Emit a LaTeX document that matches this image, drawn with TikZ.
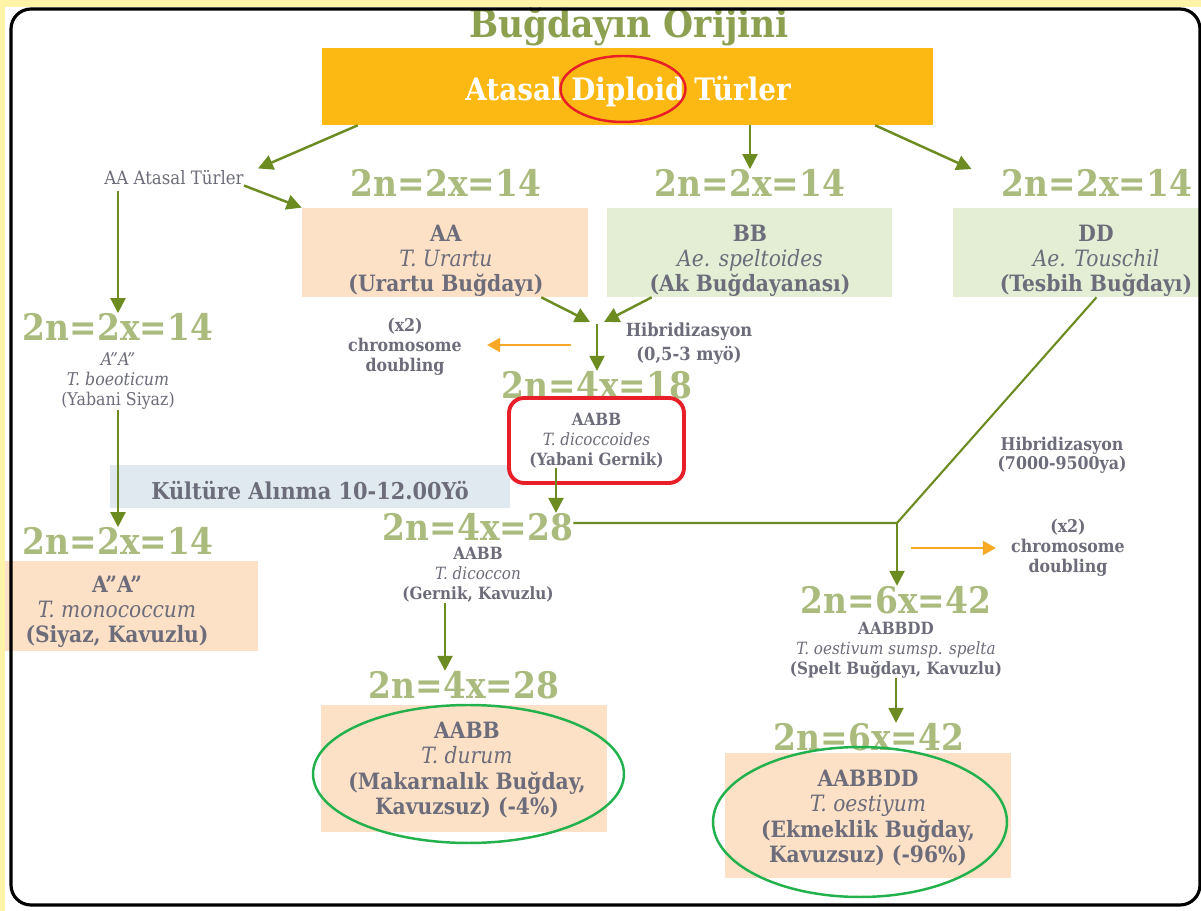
\documentclass[tikz,border=0pt]{standalone}
\usepackage{fontspec}
\setmainfont{DejaVu Serif}[FakeStretch=0.9]
\usetikzlibrary{arrows.meta,positioning,calc,shapes.geometric}
\definecolor{slideyellow}{RGB}{255,243,168}
\definecolor{titlegreen}{RGB}{140,160,80}
\definecolor{ploidgreen}{RGB}{170,187,125}
\definecolor{txtgray}{RGB}{108,108,122}
\definecolor{arrgreen}{RGB}{108,140,34}
\definecolor{topgold}{RGB}{253,185,19}
\definecolor{peach}{RGB}{253,225,199}
\definecolor{mint}{RGB}{228,238,213}
\definecolor{bandblue}{RGB}{225,233,240}
\definecolor{ringred}{RGB}{232,30,40}
\definecolor{ringgreen}{RGB}{34,177,76}
\definecolor{dblorange}{RGB}{248,168,36}
\tikzset{
  titletxt/.style={text=titlegreen, font=\bfseries\fontsize{21.8}{24}\selectfont, inner sep=0pt},
  toptxt/.style={text=white, font=\bfseries\fontsize{17.6}{20}\selectfont, inner sep=0pt},
  ploidy/.style={text=ploidgreen, font=\bfseries\fontsize{20.8}{22}\selectfont, inner sep=0pt},
  boxtxt/.style={text=txtgray, align=center, inner sep=0pt, font=\fontsize{12.8}{14.3}\selectfont},
  smalltxt/.style={text=txtgray, align=center, inner sep=0pt, font=\fontsize{9.6}{11.4}\selectfont},
  notetxt/.style={text=txtgray, align=center, inner sep=0pt, font=\bfseries\fontsize{10}{11.4}\selectfont},
  swatch/.style={inner sep=0pt, draw=none},
  arr/.style={-{Triangle[length=3mm,width=3mm]}, line width=1.4pt, arrgreen},
  link/.style={line width=1.2pt, arrgreen},
  dblarr/.style={-{Triangle[length=2.6mm,width=2.8mm]}, line width=1.2pt, dblorange},
  ring/.style={ellipse, line width=1.4pt, inner sep=0pt},
}
\newcommand{\taxon}[3]{\textbf{#1}\\\textit{#2}\\\textbf{#3}}

\begin{document}
\begin{tikzpicture}[x=0.02cm, y=-0.02cm]
  \useasboundingbox (0,0) rectangle (1201,911);
  \clip (0,0) rectangle (1201,911);
  % Slide background and frame
  \fill[white] (0,0) rectangle (1201,911);
  \fill[slideyellow] (0,0) rectangle (1201,7);
  \fill[slideyellow] (0,0) rectangle (5,911);
  % Title and ancestral diploids
  \node[titletxt] (title) at (629,27) {Buğdayın Orijini};
  \node[swatch, fill=topgold, minimum width=12.22cm, minimum height=1.54cm] (top) at (627.5,86.5) {};
  \node[toptxt] (toptxt) at (628,92) {Atasal Diploid Türler};
  \node[ring, draw=ringred, minimum width=2.5cm, minimum height=1.32cm] (dipring) at (623,89) {};
  \node[smalltxt, font=\fontsize{10.5}{12}\selectfont] (aaanc) at (174,178) {AA Atasal Türler};
  % Diploid genomes
  \node[ploidy] (p1) at (446,183) {2n=2x=14};
  \node[ploidy] (p2) at (750,183) {2n=2x=14};
  \node[ploidy] (p3) at (1097,183) {2n=2x=14};
  \node[swatch, fill=peach, minimum width=5.72cm, minimum height=1.78cm] (aa) at (445,252.5) {};
  \node[swatch, fill=mint, minimum width=5.70cm, minimum height=1.78cm] (bb) at (749.5,252.5) {};
  \node[swatch, fill=mint, minimum width=5.74cm, minimum height=1.78cm] (dd) at (1096.5,252.5) {};
  \node[boxtxt] (aatxt) at (446,261) {\taxon{AA}{T. Urartu}{(Urartu Buğdayı)}};
  \node[boxtxt] (bbtxt) at (750,261) {\taxon{BB}{Ae. speltoides}{(Ak Buğdayanası)}};
  \node[boxtxt] (ddtxt) at (1096,261) {\taxon{DD}{Ae. Touschil}{(Tesbih Buğdayı)}};
  % Einkorn line
  \node[ploidy] (lp1) at (118,327) {2n=2x=14};
  \node[smalltxt, font=\fontsize{10}{11.4}\selectfont] (boe) at (118,381) {\textit{A”A”}\\\textit{T. boeoticum}\\(Yabani Siyaz)};
  \node[swatch, fill=bandblue, minimum width=8cm, minimum height=0.86cm] (band) at (310,486.5) {};
  \node[boxtxt, font=\bfseries\fontsize{13.2}{15}\selectfont] (bandtxt) at (310,491) {Kültüre Alınma 10-12.00Yö};
  \node[ploidy] (lp2) at (118,541) {2n=2x=14};
  \node[swatch, fill=peach, minimum width=5.06cm, minimum height=1.8cm] (mono) at (131.5,606) {};
  \node[boxtxt] (monotxt) at (117,612) {\taxon{A”A”}{T. monococcum}{(Siyaz, Kavuzlu)}};
  % Tetraploids
  \node[notetxt, font=\bfseries\fontsize{10.3}{13.7}\selectfont] (hyb1) at (689,344) {Hibridizasyon\\(0,5-3 myö)};
  \node[notetxt] (dbl1) at (405,347) {(x2)\\chromosome\\doubling};
  \node[ploidy] (p4) at (597,385) {2n=4x=18};
  \node[smalltxt, font=\fontsize{9.6}{11.4}\selectfont, draw=ringred, line width=2.2pt, rounded corners=0.3cm,
        minimum width=3.5cm, minimum height=1.7cm] (dic) at (596.5,440.5)
        {\taxon{AABB}{T. dicoccoides}{(Yabani Gernik)}};
  \node[ploidy] (p5) at (478,527) {2n=4x=28};
  \node[smalltxt] (dicoc) at (478,575) {\taxon{AABB}{T. dicoccon}{(Gernik, Kavuzlu)}};
  \node[ploidy] (p6) at (464,685) {2n=4x=28};
  \node[swatch, fill=peach, minimum width=5.72cm, minimum height=2.54cm] (durum) at (464,768.5) {};
  \node[boxtxt] (durumtxt) at (467,770) {\textbf{AABB}\\\textit{T. durum}\\\textbf{(Makarnalık Buğday,}\\\textbf{Kavuzsuz) (-4\%)}};
  \node[ring, draw=ringgreen, minimum width=6.22cm, minimum height=2.76cm] (durring) at (468.5,774) {};
  % Hexaploids
  \node[notetxt, font=\bfseries\fontsize{10}{10.8}\selectfont] (hyb2) at (1062,455) {Hibridizasyon\\(7000-9500ya)};
  \node[notetxt] (dbl2) at (1068,548) {(x2)\\chromosome\\doubling};
  \node[ploidy] (p7) at (896,600) {2n=6x=42};
  \node[smalltxt] (spelt) at (896,650) {\taxon{AABBDD}{T. oestivum sumsp. spelta}{(Spelt Buğdayı, Kavuzlu)}};
  \node[ploidy] (p8) at (869,737) {2n=6x=42};
  \node[swatch, fill=peach, minimum width=5.72cm, minimum height=2.5cm] (aest) at (868,815.5) {};
  \node[boxtxt] (aesttxt) at (868,818) {\textbf{AABBDD}\\\textit{T. oestiyum}\\\textbf{(Ekmeklik Buğday,}\\\textbf{Kavuzsuz) (-96\%)}};
  \node[ring, draw=ringgreen, minimum width=5.88cm, minimum height=3.0cm] (aestring) at (860,822) {};
  % Connectors
  \coordinate (hybmeet) at (597,322);
  \coordinate (dicfoot) at (556,468);
  \coordinate (joint) at (897,523);
  \draw[arr] ($(top.south west)+(36,0)$) -- ($(aaanc.north east)+(14,-2)$);
  \draw[arr] (top.south -| p2) -- (p2.north);
  \draw[arr] ($(top.south east)+(-58,0)$) -- ($(p3.north west)+(-30,0)$);
  \draw[arr] (aaanc.south east) -- (aa.north west);
  \draw[arr, shorten <=1mm] (aaanc.south -| lp1) -- (lp1.north);
  \draw[arr] (boe.south) -- (lp2.north);
  \draw[arr] ($(aa.south east)+(-47,0)$) -- ($(hybmeet)+(-7,0)$);
  \draw[arr] ($(bb.south west)+(45,0)$) -- ($(hybmeet)+(7,0)$);
  \draw[arr] ($(hybmeet)+(0,2)$) -- (p4.north);
  \draw[dblarr] ($(hybmeet)+(-26,23)$) -- ($(dbl1.east)+(25,-2)$);
  \draw[arr] (dicfoot) -- (dicfoot |- p5.north);
  \draw[link] (p5.east |- joint) -- (joint) -- (dd.south);
  \draw[arr] (joint) -- (joint |- p7.north);
  \draw[dblarr] ($(joint)+(14,25)$) -- ($(dbl2.west)+(-15,0)$);
  \draw[arr] ($(dicoc.south)+(-33,0)$) -- ($(p6.north)+(-19,0)$);
  \draw[arr] (spelt.south) -- (spelt.south |- p8.north);
  % Frame border
  \draw[line width=1.8pt, rounded corners=0.4cm] (11,9) rectangle (1200,905);
\end{tikzpicture}
\end{document}
